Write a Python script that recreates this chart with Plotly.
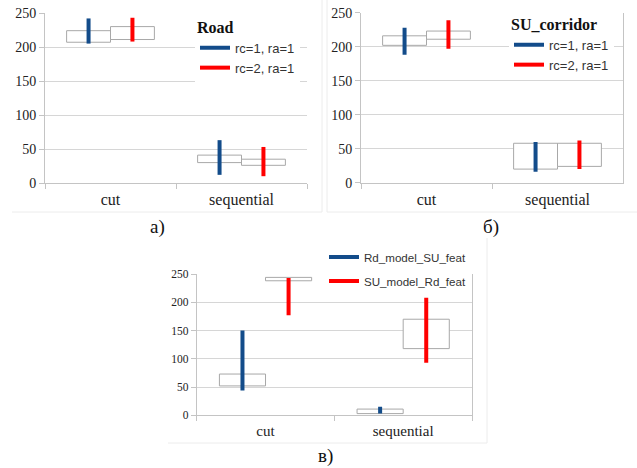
import plotly.graph_objects as go

W, H = 637, 468

categories = ["cut", "sequential"]

# Panel a) Road
road_names = ["rc=1, ra=1", "rc=2, ra=1"]
road_rc1_box_low = [207, 30]
road_rc1_box_high = [224, 41]
road_rc1_whisker_low = [205, 12]
road_rc1_whisker_high = [242, 63]
road_rc2_box_low = [211, 26]
road_rc2_box_high = [230, 35]
road_rc2_whisker_low = [208, 10]
road_rc2_whisker_high = [243, 53]

# Panel б) SU_corridor
su_names = ["rc=1, ra=1", "rc=2, ra=1"]
su_rc1_box_low = [202, 20]
su_rc1_box_high = [216, 58]
su_rc1_whisker_low = [188, 16]
su_rc1_whisker_high = [228, 60]
su_rc2_box_low = [211, 24]
su_rc2_box_high = [223, 58]
su_rc2_whisker_low = [197, 20]
su_rc2_whisker_high = [239, 62]

# Panel в) cross models
cross_names = ["Rd_model_SU_feat", "SU_model_Rd_feat"]
rdsu_box_low = [52, 3]
rdsu_box_high = [73, 11]
rdsu_whisker_low = [44, 3]
rdsu_whisker_high = [150, 15]
surd_box_low = [238, 118]
surd_box_high = [244, 170]
surd_whisker_low = [177, 93]
surd_whisker_high = [243, 208]

y_ticks = [0, 50, 100, 150, 200, 250]

BLUE = "#134c8a"
RED = "#ff0000"
BOX_LINE = "#a8a8a8"
GRID = "#d6d6d6"
AXIS = "#c4c4c4"
SERIF = "Liberation Serif, Times New Roman, serif"
SANS = "Liberation Sans, Arial, sans-serif"

fig = go.Figure()


def add_series(xa, ya, legend, name, color, box_low, box_high, wlo, whi, group):
    fig.add_trace(go.Bar(
        x=categories, base=box_low,
        y=[hi - lo for lo, hi in zip(box_low, box_high)],
        xaxis=xa, yaxis=ya, offsetgroup=group, showlegend=False,
        marker=dict(color="white", line=dict(color=BOX_LINE, width=1)),
        hoverinfo="skip",
    ))
    xs, ys = [], []
    for c, lo, hi in zip(categories, wlo, whi):
        xs += [c, c, None]
        ys += [lo, hi, None]
    fig.add_trace(go.Scatter(
        x=xs, y=ys, mode="lines", name=name, legend=legend,
        xaxis=xa, yaxis=ya, offsetgroup=group, orientation="v",
        line=dict(color=color, width=4), legendgroup=legend + name,
        connectgaps=False,
    ))


add_series("x", "y", "legend", road_names[0], BLUE, road_rc1_box_low, road_rc1_box_high,
           road_rc1_whisker_low, road_rc1_whisker_high, "a1")
add_series("x", "y", "legend", road_names[1], RED, road_rc2_box_low, road_rc2_box_high,
           road_rc2_whisker_low, road_rc2_whisker_high, "a2")
add_series("x2", "y2", "legend2", su_names[0], BLUE, su_rc1_box_low, su_rc1_box_high,
           su_rc1_whisker_low, su_rc1_whisker_high, "b1")
add_series("x2", "y2", "legend2", su_names[1], RED, su_rc2_box_low, su_rc2_box_high,
           su_rc2_whisker_low, su_rc2_whisker_high, "b2")
add_series("x3", "y3", "legend3", cross_names[0], BLUE, rdsu_box_low, rdsu_box_high,
           rdsu_whisker_low, rdsu_whisker_high, "c1")
add_series("x3", "y3", "legend3", cross_names[1], RED, surd_box_low, surd_box_high,
           surd_whisker_low, surd_whisker_high, "c2")


def px_x(v):
    return v / W


def px_y(v):
    return 1 - v / H


def xaxis(domain, anchor, fsize):
    return dict(domain=domain, anchor=anchor, type="category",
                categoryorder="array", categoryarray=categories,
                showgrid=False, showline=True, linecolor=AXIS, linewidth=1,
                ticks="outside", tickson="boundaries", ticklen=5, tickcolor=AXIS,
                tickfont=dict(family=SERIF, size=fsize, color="#222222"),
                ticklabelstandoff=2, fixedrange=True, automargin=False)


def yaxis(domain, anchor, fsize, mirror):
    return dict(domain=domain, anchor=anchor, range=[0, 250], tickvals=y_ticks,
                showgrid=True, gridcolor=GRID, gridwidth=1, zeroline=False,
                showline=True, linecolor=AXIS, linewidth=1, mirror=mirror,
                ticks="outside", ticklen=5, tickcolor=AXIS,
                tickfont=dict(family=SERIF, size=fsize, color="#222222"),
                fixedrange=True, automargin=False)


fig.update_layout(
    width=W, height=H, autosize=False,
    margin=dict(l=0, r=0, t=0, b=0, autoexpand=False),
    paper_bgcolor="white", plot_bgcolor="white",
    barmode="group", bargap=0.33, bargroupgap=0,
    scattermode="group", scattergap=0.33,
    xaxis=xaxis([px_x(45), px_x(307)], "y", 16),
    yaxis=yaxis([px_y(183), px_y(13)], "x", 14, False),
    xaxis2=xaxis([px_x(361), px_x(623)], "y2", 16),
    yaxis2=yaxis([px_y(182.7), px_y(12.7)], "x2", 14, True),
    xaxis3=xaxis([px_x(196.7), px_x(472)], "y3", 15),
    yaxis3=yaxis([px_y(415.3), px_y(274)], "x3", 11.5, True),
    legend=dict(x=px_x(195), y=px_y(12), xanchor="left", yanchor="top",
                bgcolor="white", borderwidth=0,
                font=dict(family=SANS, size=13, color="#333333"),
                title=dict(text="<b>Road</b>", font=dict(family=SERIF, size=16, color="#111111")),
                tracegroupgap=0),
    legend2=dict(x=px_x(509), y=px_y(9), xanchor="left", yanchor="top",
                 bgcolor="white", borderwidth=0,
                 font=dict(family=SANS, size=13, color="#333333"),
                 title=dict(text="<b>SU_corridor</b>", font=dict(family=SERIF, size=16, color="#111111")),
                 tracegroupgap=0),
    legend3=dict(x=px_x(324), y=px_y(242.5), xanchor="left", yanchor="top",
                 bgcolor="white", borderwidth=0,
                 font=dict(family=SANS, size=11.6, color="#333333"),
                 tracegroupgap=5),
    shapes=[
        dict(type="line", xref="paper", yref="paper", x0=px_x(12), x1=px_x(322),
             y0=px_y(212), y1=px_y(212), line=dict(color="#ececec", width=1)),
        dict(type="line", xref="paper", yref="paper", x0=px_x(322), x1=px_x(322),
             y0=px_y(0), y1=px_y(212), line=dict(color="#ececec", width=1)),
        dict(type="line", xref="paper", yref="paper", x0=px_x(327), x1=px_x(637),
             y0=px_y(212), y1=px_y(212), line=dict(color="#ececec", width=1)),
        dict(type="line", xref="paper", yref="paper", x0=px_x(327), x1=px_x(327),
             y0=px_y(0), y1=px_y(212), line=dict(color="#ececec", width=1)),
        dict(type="line", xref="paper", yref="paper", x0=px_x(168), x1=px_x(487),
             y0=px_y(443), y1=px_y(443), line=dict(color="#ececec", width=1)),
        dict(type="line", xref="paper", yref="paper", x0=px_x(487), x1=px_x(487),
             y0=px_y(238), y1=px_y(443), line=dict(color="#ececec", width=1)),
    ],
    annotations=[
        dict(text="a)", xref="paper", yref="paper", x=px_x(157), y=px_y(227),
             xanchor="center", yanchor="middle", showarrow=False,
             font=dict(family=SERIF, size=19, color="#111111")),
        dict(text="б)", xref="paper", yref="paper", x=px_x(491), y=px_y(227),
             xanchor="center", yanchor="middle", showarrow=False,
             font=dict(family=SERIF, size=19, color="#111111")),
        dict(text="в)", xref="paper", yref="paper", x=px_x(325), y=px_y(456),
             xanchor="center", yanchor="middle", showarrow=False,
             font=dict(family=SERIF, size=19, color="#111111")),
    ],
)

fig.write_html(
    "out.html",
    config={"displayModeBar": False, "staticPlot": True},
    post_script=(
        "document.body.style.margin='0';"
        "document.body.style.overflow='hidden';"
        "document.documentElement.style.overflow='hidden';"
    ),
)
